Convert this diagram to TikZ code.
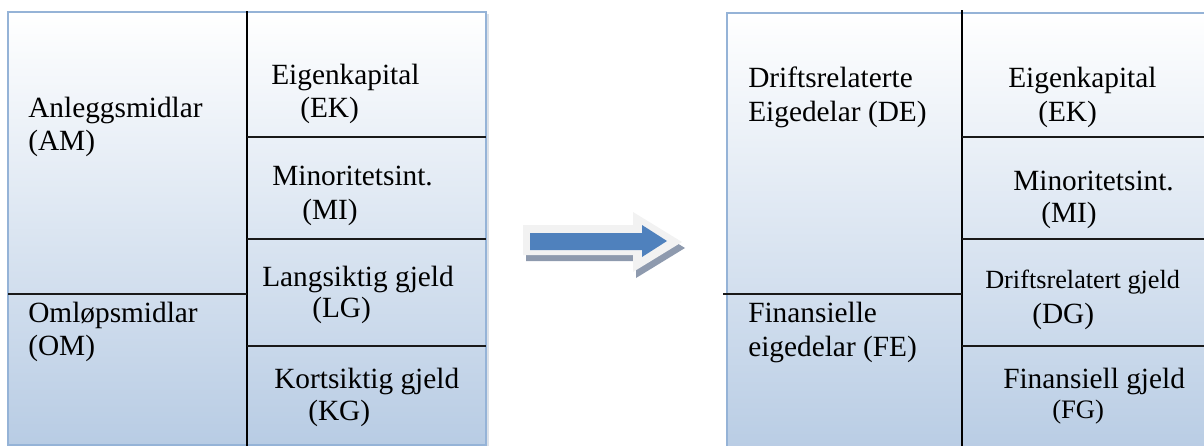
\documentclass[tikz,border=0pt]{standalone}
\usepackage{fontspec}
\setmainfont{Liberation Serif}[Ligatures=TeX]
\definecolor{boxedge}{HTML}{95B3D7}
\definecolor{boxbottom}{HTML}{B8CCE4}
\definecolor{boxshade}{HTML}{9AA8BC}
\definecolor{arrowblue}{HTML}{4F81BD}
\definecolor{arrowrim}{HTML}{F2F2F2}
\definecolor{arrowshadow}{HTML}{8E9AAE}
\tikzset{
  txt/.style={anchor=base west, inner sep=0pt, font=\rmfamily\fontsize{22}{26}\selectfont},
  txtsmall/.style={anchor=base west, inner sep=0pt, font=\rmfamily\fontsize{19.7}{23}\selectfont},
  txtfg/.style={anchor=base west, inner sep=0pt, font=\rmfamily\fontsize{20}{24}\selectfont},
  divider/.style={line width=1.5pt, black},
  rule/.style={line width=1.2pt, black!90},
  panel/.style={top color=white, bottom color=boxbottom, draw=boxedge, line width=1.5pt},
  panelshadow/.style={fill=boxshade, fill opacity=0.35},
}
\begin{document}
\begin{tikzpicture}[x=0.75pt,y=-0.75pt]
\useasboundingbox (0,0) rectangle (1204,446);
\clip (0,0) rectangle (1204,446);

% ---------- left balance sheet ----------
\fill[panelshadow] (10,14) rectangle (488.5,447.5);
\shade[panel] (8,12) rectangle (486,445);
\draw[divider] (247,11) -- (247,446);
\draw[rule] (8,294) -- (247,294);
\draw[rule] (247,137) -- (486,137);
\draw[rule] (247,239) -- (486,239);
\draw[rule] (247,346) -- (486,346);

\node[txt] (am1) at (28,117) {Anleggsmidlar};
\node[txt] (am2) at (28,150) {(AM)};
\node[txt] (om1) at (28,322) {Omløpsmidlar};
\node[txt] (om2) at (28,355) {(OM)};
\node[txt] (ek1) at (271,84) {Eigenkapital};
\node[txt] (ek2) at (300,117) {(EK)};
\node[txt] (mi1) at (272,185) {Minoritetsint.};
\node[txt] (mi2) at (302,219) {(MI)};
\node[txt] (lg1) at (262,286) {Langsiktig gjeld};
\node[txt] (lg2) at (312,317) {(LG)};
\node[txt] (kg1) at (274,388) {Kortsiktig gjeld};
\node[txt] (kg2) at (308,420) {(KG)};

% ---------- arrow between the two sheets ----------
\fill[arrowshadow] (526,231) -- (636,231) -- (636,218) -- (685,248) -- (636,278) -- (636,261) -- (526,261) -- cycle;
\fill[arrowrim] (523,225) -- (633,225) -- (633,212) -- (682,242) -- (633,272) -- (633,255) -- (523,255) -- cycle;
\fill[arrowblue] (530,233) -- (642,233) -- (642,225) -- (667,241) -- (642,257) -- (642,250) -- (530,250) -- cycle;

% ---------- right balance sheet ----------
\fill[panelshadow] (729,15) rectangle (1214,460);
\shade[panel] (727,13) rectangle (1210,455);
\draw[divider] (962,10) -- (962,446);
\draw[rule] (723,294) -- (962,294);
\draw[rule] (962,137) -- (1204,137);
\draw[rule] (962,239) -- (1204,239);
\draw[rule] (962,346) -- (1204,346);

\node[txt] (de1) at (748,87) {Driftsrelaterte};
\node[txt] (de2) at (748,121) {Eigedelar (DE)};
\node[txt] (fe1) at (748,322) {Finansielle};
\node[txt] (fe2) at (748,356) {eigedelar (FE)};
\node[txt] (rek1) at (1008,87) {Eigenkapital};
\node[txt] (rek2) at (1038,121) {(EK)};
\node[txt] (rmi1) at (1013,190) {Minoritetsint.};
\node[txt] (rmi2) at (1041,222) {(MI)};
\node[txtsmall] (dg1) at (985,288) {Driftsrelatert gjeld};
\node[txt] (dg2) at (1032,323) {(DG)};
\node[txt] (fg1) at (1003,388) {Finansiell gjeld};
\node[txtfg] (fg2) at (1052,418) {(FG)};
\end{tikzpicture}
\end{document}
